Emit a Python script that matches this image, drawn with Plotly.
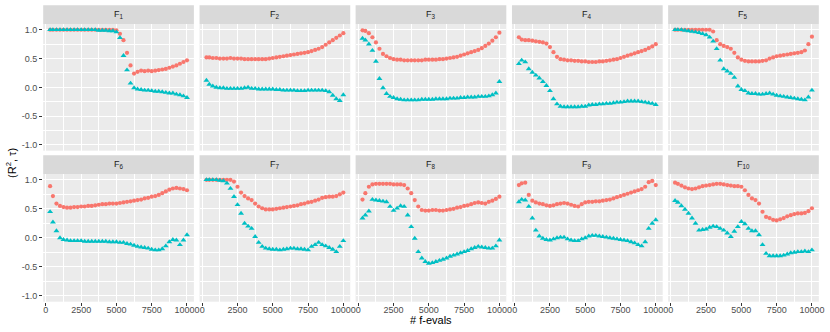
import plotly.graph_objects as go

# evaluation counts shared by every panel
f_evals = [300, 500, 750, 1000, 1250, 1500, 1750, 2000, 2250, 2500,
           2750, 3000, 3250, 3500, 3750, 4000, 4250, 4500, 4750, 5000,
           5250, 5500, 5750, 6000, 6250, 6500, 6750, 7000, 7250, 7500,
           7750, 8000, 8250, 8500, 8750, 9000, 9250, 9500, 9750, 10000]

panels = ["F<sub>1</sub>", "F<sub>2</sub>", "F<sub>3</sub>", "F<sub>4</sub>", "F<sub>5</sub>",
          "F<sub>6</sub>", "F<sub>7</sub>", "F<sub>8</sub>", "F<sub>9</sub>", "F<sub>10</sub>"]

# R^2 (red) and tau (cyan) per function
r2_f1 = [1.0, 1.0, 1.0, 1.0, 1.0, 1.0, 1.0, 1.0, 1.0, 1.0, 1.0, 1.0, 1.0, 1.0, 1.0, 1.0, 1.0, 1.0, 1.0, 0.99,
         0.93, 0.82, 0.6, 0.38, 0.24, 0.27, 0.29, 0.28, 0.29, 0.28, 0.29, 0.3, 0.31, 0.32, 0.34, 0.36, 0.38, 0.41, 0.44, 0.47]
tau_f1 = [1.0, 1.0, 1.0, 1.0, 1.0, 1.0, 1.0, 1.0, 1.0, 1.0, 1.0, 1.0, 1.0, 1.0, 0.99, 0.99, 0.99, 0.98, 0.98, 0.96,
          0.86, 0.55, 0.3, 0.07, -0.01, -0.03, -0.04, -0.05, -0.05, -0.06, -0.07, -0.07, -0.08, -0.09, -0.1, -0.1, -0.12, -0.13, -0.15, -0.18]

r2_f2 = [0.52, 0.52, 0.51, 0.51, 0.5, 0.5, 0.5, 0.51, 0.5, 0.5, 0.5, 0.49, 0.49, 0.49, 0.49, 0.49, 0.49, 0.49, 0.5, 0.51,
         0.52, 0.53, 0.54, 0.55, 0.56, 0.57, 0.58, 0.59, 0.6, 0.61, 0.63, 0.65, 0.67, 0.7, 0.74, 0.78, 0.82, 0.86, 0.9, 0.94]
tau_f2 = [0.12, 0.05, 0.02, 0.0, -0.01, -0.01, -0.02, -0.02, -0.02, -0.02, -0.02, -0.01, 0.0, -0.02, -0.02, -0.03, -0.03, -0.03, -0.03, -0.03,
          -0.04, -0.04, -0.05, -0.05, -0.05, -0.05, -0.06, -0.06, -0.06, -0.05, -0.05, -0.05, -0.05, -0.05, -0.06, -0.08, -0.14, -0.2, -0.23, -0.13]

r2_f3 = [0.99, 0.98, 0.94, 0.87, 0.78, 0.67, 0.58, 0.54, 0.51, 0.49, 0.48, 0.48, 0.47, 0.47, 0.47, 0.47, 0.47, 0.47, 0.48, 0.48,
         0.48, 0.48, 0.49, 0.49, 0.5, 0.51, 0.52, 0.53, 0.55, 0.57, 0.59, 0.61, 0.63, 0.65, 0.68, 0.72, 0.76, 0.81, 0.87, 0.95]
tau_f3 = [0.85, 0.82, 0.75, 0.64, 0.45, 0.15, -0.01, -0.11, -0.16, -0.18, -0.2, -0.21, -0.22, -0.22, -0.22, -0.22, -0.22, -0.21, -0.21, -0.21,
          -0.21, -0.2, -0.2, -0.2, -0.2, -0.19, -0.19, -0.19, -0.18, -0.18, -0.17, -0.17, -0.17, -0.16, -0.16, -0.16, -0.15, -0.13, -0.1, 0.1]

r2_f4 = [0.87, 0.83, 0.82, 0.82, 0.81, 0.8, 0.79, 0.78, 0.76, 0.7, 0.61, 0.53, 0.49, 0.48, 0.47, 0.47, 0.46, 0.46, 0.45, 0.45,
         0.44, 0.44, 0.44, 0.45, 0.45, 0.46, 0.47, 0.48, 0.49, 0.51, 0.53, 0.55, 0.57, 0.59, 0.61, 0.63, 0.65, 0.68, 0.71, 0.75]
tau_f4 = [0.41, 0.47, 0.44, 0.32, 0.26, 0.21, 0.16, 0.1, 0.03, -0.06, -0.2, -0.29, -0.33, -0.34, -0.34, -0.34, -0.34, -0.34, -0.33, -0.33,
          -0.31, -0.3, -0.3, -0.29, -0.29, -0.28, -0.28, -0.27, -0.26, -0.26, -0.25, -0.24, -0.24, -0.24, -0.24, -0.25, -0.26, -0.27, -0.28, -0.3]

r2_f5 = [1.0, 1.0, 1.0, 1.0, 1.0, 1.0, 1.0, 1.0, 1.0, 1.0, 1.0, 0.97, 0.82, 0.75, 0.72, 0.7, 0.67, 0.6, 0.52, 0.48,
         0.46, 0.45, 0.45, 0.45, 0.45, 0.46, 0.47, 0.5, 0.52, 0.54, 0.55, 0.56, 0.57, 0.58, 0.59, 0.6, 0.61, 0.64, 0.75, 0.88]
tau_f5 = [1.0, 1.0, 1.0, 0.99, 0.98, 0.97, 0.96, 0.95, 0.93, 0.91, 0.87, 0.8, 0.67, 0.47, 0.32, 0.28, 0.24, 0.17, 0.02, -0.04,
          -0.06, -0.1, -0.11, -0.11, -0.12, -0.12, -0.11, -0.1, -0.12, -0.14, -0.15, -0.16, -0.17, -0.18, -0.19, -0.2, -0.21, -0.22, -0.17, -0.05]

r2_f6 = [0.89, 0.72, 0.59, 0.55, 0.53, 0.52, 0.52, 0.53, 0.53, 0.54, 0.54, 0.55, 0.55, 0.56, 0.57, 0.58, 0.58, 0.59, 0.59, 0.59,
         0.6, 0.61, 0.62, 0.63, 0.64, 0.65, 0.66, 0.68, 0.69, 0.71, 0.72, 0.74, 0.77, 0.8, 0.83, 0.85, 0.86, 0.85, 0.84, 0.82]
tau_f6 = [0.45, 0.27, 0.12, 0.0, -0.03, -0.04, -0.05, -0.05, -0.05, -0.05, -0.06, -0.06, -0.06, -0.06, -0.06, -0.06, -0.06, -0.07, -0.07, -0.07,
          -0.08, -0.08, -0.1, -0.11, -0.13, -0.15, -0.16, -0.17, -0.18, -0.2, -0.21, -0.21, -0.19, -0.14, -0.07, -0.03, -0.04, -0.12, -0.04, 0.05]

r2_f7 = [1.0, 1.0, 1.0, 1.0, 1.0, 1.0, 1.0, 1.0, 0.97, 0.88, 0.78, 0.72, 0.68, 0.65, 0.59, 0.54, 0.51, 0.49, 0.49, 0.49,
         0.5, 0.51, 0.52, 0.53, 0.54, 0.55, 0.56, 0.58, 0.59, 0.61, 0.62, 0.64, 0.66, 0.69, 0.7, 0.71, 0.71, 0.72, 0.75, 0.78]
tau_f7 = [1.0, 1.0, 1.0, 1.0, 0.99, 0.98, 0.94, 0.85, 0.71, 0.57, 0.42, 0.25, 0.2, 0.16, 0.02, -0.08, -0.15, -0.18, -0.19, -0.2,
          -0.2, -0.21, -0.2, -0.19, -0.18, -0.18, -0.19, -0.19, -0.2, -0.21, -0.15, -0.12, -0.08, -0.12, -0.14, -0.17, -0.2, -0.24, -0.15, -0.05]

r2_f8 = [0.66, 0.77, 0.88, 0.92, 0.93, 0.93, 0.93, 0.93, 0.93, 0.92, 0.92, 0.92, 0.91, 0.85, 0.77, 0.65, 0.54, 0.48, 0.47, 0.47,
         0.48, 0.48, 0.47, 0.47, 0.48, 0.49, 0.5, 0.52, 0.53, 0.55, 0.56, 0.58, 0.6, 0.61, 0.6, 0.59, 0.62, 0.64, 0.67, 0.71]
tau_f8 = [0.34, 0.39, 0.46, 0.66, 0.65, 0.64, 0.63, 0.62, 0.54, 0.47, 0.51, 0.55, 0.54, 0.39, 0.19, -0.01, -0.24, -0.35, -0.41, -0.44,
          -0.43, -0.41, -0.39, -0.37, -0.35, -0.32, -0.3, -0.28, -0.26, -0.24, -0.22, -0.19, -0.17, -0.15, -0.16, -0.17, -0.18, -0.18, -0.14, -0.04]

r2_f9 = [0.91, 0.94, 0.95, 0.74, 0.64, 0.61, 0.59, 0.58, 0.56, 0.55, 0.56, 0.58, 0.59, 0.6, 0.59, 0.57, 0.55, 0.54, 0.58, 0.61,
         0.62, 0.62, 0.63, 0.63, 0.64, 0.65, 0.66, 0.68, 0.7, 0.72, 0.74, 0.76, 0.78, 0.8, 0.82, 0.84, 0.88, 0.96, 0.98, 0.91]
tau_f9 = [0.62, 0.66, 0.65, 0.54, 0.34, 0.13, 0.03, -0.01, -0.03, -0.04, -0.02, 0.0, 0.01, 0.01, -0.02, -0.04, -0.05, -0.05, -0.02, 0.0,
          0.03, 0.04, 0.04, 0.03, 0.02, 0.01, 0.0, -0.01, -0.02, -0.03, -0.04, -0.05, -0.07, -0.09, -0.12, -0.14, -0.07, 0.16, 0.25, 0.31]

r2_f10 = [0.95, 0.93, 0.9, 0.87, 0.85, 0.84, 0.85, 0.87, 0.89, 0.9, 0.91, 0.92, 0.93, 0.93, 0.92, 0.91, 0.9, 0.89, 0.89, 0.88,
          0.82, 0.74, 0.68, 0.65, 0.59, 0.45, 0.36, 0.34, 0.31, 0.3, 0.32, 0.34, 0.37, 0.39, 0.41, 0.42, 0.42, 0.43, 0.46, 0.51]
tau_f10 = [0.64, 0.61, 0.55, 0.49, 0.42, 0.34, 0.25, 0.13, 0.14, 0.15, 0.18, 0.2, 0.19, 0.16, 0.13, 0.08, 0.02, 0.11, 0.19, 0.28,
           0.24, 0.16, 0.12, 0.12, 0.05, -0.12, -0.27, -0.31, -0.31, -0.31, -0.31, -0.3, -0.28, -0.26, -0.25, -0.24, -0.24, -0.23, -0.24, -0.21]

x_ticks = [0, 2500, 5000, 7500, 10000]
x_labels = ["0", "2500", "5000", "7500", "10000"]
y_ticks = [1.0, 0.5, 0.0, -0.5, -1.0]
y_labels = ["1.0", "0.5", "0.0", "-0.5", "-1.0"]

r2_all = [r2_f1, r2_f2, r2_f3, r2_f4, r2_f5, r2_f6, r2_f7, r2_f8, r2_f9, r2_f10]
tau_all = [tau_f1, tau_f2, tau_f3, tau_f4, tau_f5, tau_f6, tau_f7, tau_f8, tau_f9, tau_f10]

W, H = 830, 332
RED = "#F8766D"
CYAN = "#00BFC4"
FONT = "Liberation Sans, Arial, sans-serif"

col_left = [43.5, 201, 358.2, 515.7, 673]
panel_w = 151.8
row_top = [24, 174]      # plot area top (px)
row_bot = [150.7, 301.7]  # plot area bottom (px)
strip_h = 18.7

fig = go.Figure()
layout = dict(width=W, height=H, margin=dict(l=0, r=0, t=0, b=0),
              paper_bgcolor="white", plot_bgcolor="#EBEBEB", showlegend=False,
              font=dict(family=FONT, color="#4D4D4D", size=9))
shapes = []
annotations = []

for i in range(10):
    n = i + 1
    row, col = divmod(i, 5)
    xa = "x" if n == 1 else f"x{n}"
    ya = "y" if n == 1 else f"y{n}"

    fig.add_trace(go.Scatter(x=f_evals, y=r2_all[i], mode="markers", xaxis=xa, yaxis=ya,
                             marker=dict(symbol="circle", size=4.2, color=RED, line=dict(width=0))))
    fig.add_trace(go.Scatter(x=f_evals, y=tau_all[i], mode="markers", xaxis=xa, yaxis=ya,
                             marker=dict(symbol="triangle-up", size=5.2, color=CYAN, line=dict(width=0))))

    x0 = col_left[col] / W
    x1 = (col_left[col] + panel_w) / W
    y0 = (H - row_bot[row]) / H
    y1 = (H - row_top[row]) / H

    bottom = row == 1
    left = col == 0
    layout["xaxis" if n == 1 else f"xaxis{n}"] = dict(
        domain=[x0, x1], anchor=ya, range=[-190, 10490],
        tickvals=x_ticks, ticktext=x_labels, showticklabels=bottom,
        ticks="outside" if bottom else "", ticklen=3, tickwidth=1, tickcolor="#333333",
        ticklabelstandoff=-4,
        showgrid=True, gridcolor="white", gridwidth=1.1, zeroline=False, showline=False,
        minor=dict(tickvals=[1250, 3750, 6250, 8750], showgrid=True, gridcolor="white", gridwidth=0.5),
        tickfont=dict(size=9, color="#4D4D4D"))
    layout["yaxis" if n == 1 else f"yaxis{n}"] = dict(
        domain=[y0, y1], anchor=xa, range=[-1.1, 1.1],
        tickvals=y_ticks, ticktext=y_labels, showticklabels=left,
        ticks="outside" if left else "", ticklen=3, tickwidth=1, tickcolor="#333333",
        showgrid=True, gridcolor="white", gridwidth=1.1, zeroline=False, showline=False,
        minor=dict(tickvals=[-0.75, -0.25, 0.25, 0.75], showgrid=True, gridcolor="white", gridwidth=0.5),
        tickfont=dict(size=9, color="#4D4D4D"))

    # facet strip
    sy0 = y1
    sy1 = (H - row_top[row] + strip_h) / H
    shapes.append(dict(type="rect", xref="paper", yref="paper", x0=x0, x1=x1, y0=sy0, y1=sy1,
                       fillcolor="#D9D9D9", line=dict(width=0), layer="below"))
    annotations.append(dict(text=panels[i], xref="paper", yref="paper", x=(x0 + x1) / 2,
                            y=(sy0 + sy1) / 2, showarrow=False, xanchor="center", yanchor="middle",
                            font=dict(size=9, color="#1A1A1A")))

# axis titles
annotations.append(dict(text="# f-evals", xref="paper", yref="paper",
                        x=(col_left[0] + col_left[4] + panel_w) / 2 / W, y=(H - 320) / H,
                        showarrow=False, xanchor="center", yanchor="middle",
                        font=dict(size=11, color="black")))
annotations.append(dict(text="(R<sup>2</sup>, τ)", xref="paper", yref="paper",
                        x=11 / W, y=(H - 163) / H, textangle=-90,
                        showarrow=False, xanchor="center", yanchor="middle",
                        font=dict(size=11, color="black")))

layout["shapes"] = shapes
layout["annotations"] = annotations
fig.update_layout(**layout)

# drop the default page margin so the figure sits at the window's corner
fig.write_html("out.html", config={"displayModeBar": False},
               post_script="document.body.style.margin='0';")
